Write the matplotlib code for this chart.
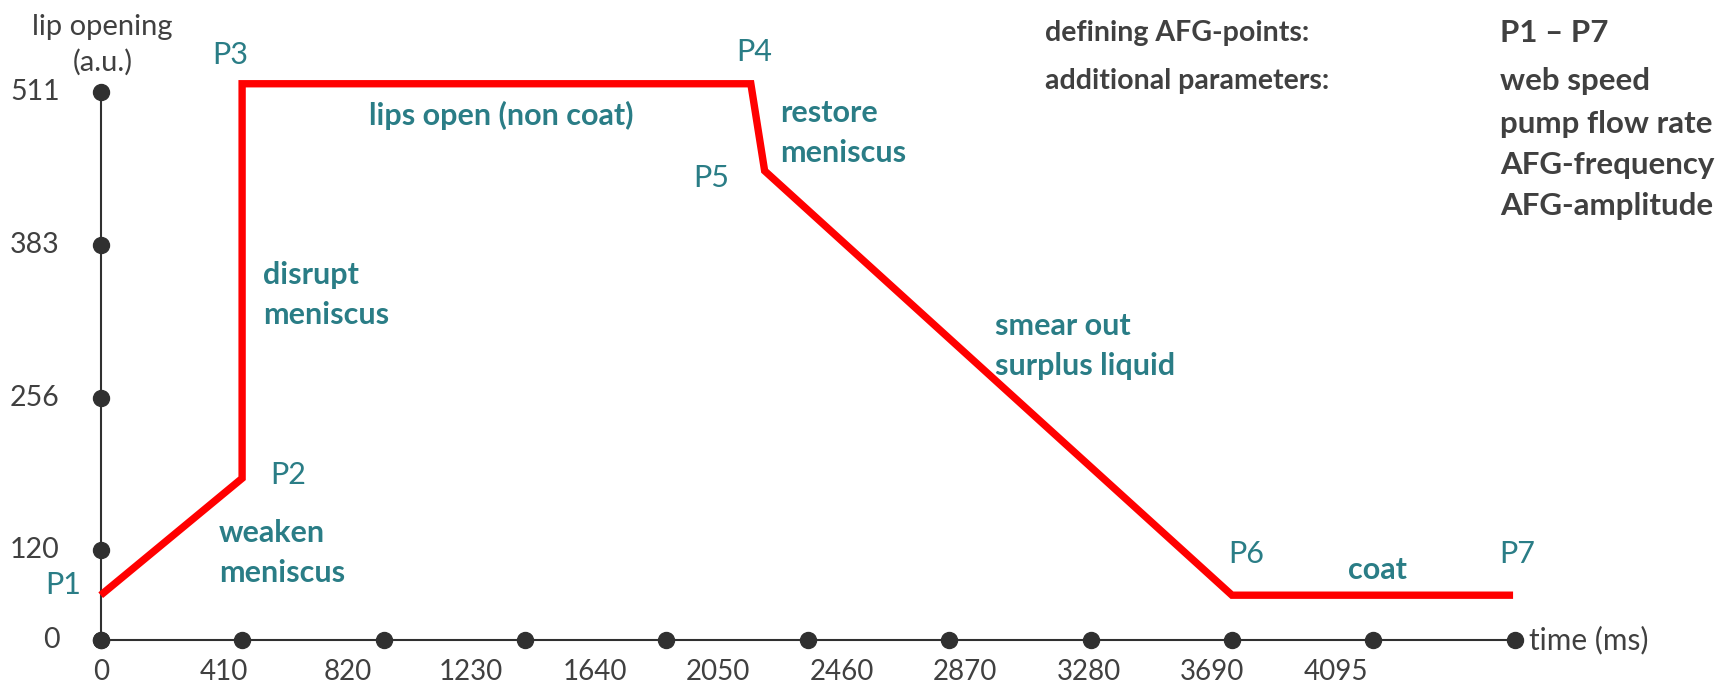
import numpy as np
import matplotlib
matplotlib.use("Agg")
import matplotlib.pyplot as plt

plt.rcParams["font.family"] = ["Lato", "DejaVu Sans"]

# axis ticks
time_ticks = [0, 410, 820, 1230, 1640, 2050, 2460, 2870, 3280, 3690, 4100]
time_labels = ["0", "410", "820", "1230", "1640", "2050", "2460", "2870",
               "3280", "3690", "4095"]
opening_ticks = [0, 120, 256, 383, 511]

# AFG profile P1..P7 (time in ms, lip opening in a.u.)
point_names = ["P1", "P2", "P3", "P4", "P5", "P6", "P7"]
point_time = [0, 410, 410, 1885, 1925, 3280, 4095]
point_opening = [60, 184, 518, 518, 445, 60, 60]

# phase descriptions
phase_texts = ["weaken\nmeniscus", "disrupt\nmeniscus", "lips open (non coat)",
               "restore\nmeniscus", "smear out\nsurplus liquid", "coat"]

settings_left = ["defining AFG-points:", "additional parameters:"]
settings_right = ["P1 \u2013 P7", "web speed", "pump flow rate",
                  "AFG-frequency", "AFG-amplitude"]

W, H = 1719, 692
DPI = 100
TEAL = "#2a7d86"
GREY = "#404040"
DARK = "#303030"
PT = 72 / DPI  # points per pixel

# the opening axis is stretched unevenly between its ticks
scale_vals = [-1000, 0, 120, 256, 383, 511, 1500]
scale_px = [-750, 0, 90, 242.7, 395.4, 548.1, 1728.0]


def forward(v):
    return np.interp(v, scale_vals, scale_px)


def inverse(p):
    return np.interp(p, scale_px, scale_vals)


fig = plt.figure(figsize=(W / DPI, H / DPI), dpi=DPI)
ax = fig.add_axes([0, 0, 1, 1])
ax.set_yscale("function", functions=(forward, inverse))
ax.set_xlim(-100.7 / 0.3449, (W - 100.7) / 0.3449)
ax.set_ylim(inverse(-51.8), inverse(640.2))
ax.axis("off")

# axes with dot markers
ax.plot([time_ticks[0], time_ticks[-1]], [0, 0], color=DARK, lw=1.5, zorder=1)
ax.plot([0, 0], [opening_ticks[0], opening_ticks[-1]], color=DARK, lw=1.5, zorder=1)
ax.plot(time_ticks, np.zeros(len(time_ticks)), "o", color=DARK, ms=11.5, zorder=2)
ax.plot(np.zeros(len(opening_ticks)), opening_ticks, "o", color=DARK, ms=11.5, zorder=2)

# tick labels: the time labels sit on a slightly tighter pitch than the dots
label_step = 358
for i, lab in enumerate(time_labels):
    ax.annotate(lab, (i * label_step, 0), xytext=(0, -32 * PT), textcoords="offset points",
                ha="center", va="center", fontsize=20, color=GREY)
for val in opening_ticks:
    ax.annotate(str(val), (0, val), xytext=(-41 * PT, 0), textcoords="offset points",
                ha="right", va="center", fontsize=20.5, color=GREY)

ax.annotate("time (ms)", (time_ticks[-1], 0), xytext=(14 * PT, 0), textcoords="offset points",
            ha="left", va="center", fontsize=21.5, color=GREY)
ax.annotate("lip opening\n(a.u.)", (0, opening_ticks[-1]), xytext=(2 * PT, 47 * PT),
            textcoords="offset points", ha="center", va="center", fontsize=21,
            color=GREY, linespacing=1.4)

# the AFG profile
ax.plot(point_time, point_opening, color="#ff0000", lw=5.3, solid_joinstyle="miter",
        solid_capstyle="butt", zorder=3)

# point names, offsets in pixels from each point
name_offsets = [(-38, 10), (46, 3), (-12, 29), (3, 32), (-53, -7), (14, 41), (4, 41)]
for name, t, v, (dx, dy) in zip(point_names, point_time, point_opening, name_offsets):
    ax.annotate(name, (t, v), xytext=(dx * PT, dy * PT), textcoords="offset points",
                ha="center", va="center", fontsize=22, color=TEAL)


def px(x, y):
    return x / W, 1 - y / H


# phase descriptions (pixel anchor, alignment)
phase_pos = [((219, 553), "left"), ((263, 295), "left"), ((501, 115), "center"),
             ((780, 133), "left"), ((995, 346), "left"), ((1377, 570), "center")]
for txt, ((x, y), ha) in zip(phase_texts, phase_pos):
    fig.text(*px(x, y), txt, ha=ha, va="center", fontsize=22, fontweight="bold",
             color=TEAL, linespacing=1.5)

settings_left_y = [33, 81]
settings_right_y = [33, 81, 124, 165, 206]
for txt, y in zip(settings_left, settings_left_y):
    fig.text(*px(1045, y), txt, ha="left", va="center", fontsize=20.5,
             fontweight="bold", color=GREY)
for txt, y in zip(settings_right, settings_right_y):
    fig.text(*px(1500, y), txt, ha="left", va="center", fontsize=22.5,
             fontweight="bold", color=GREY)

fig.savefig("out.png", dpi=DPI)
